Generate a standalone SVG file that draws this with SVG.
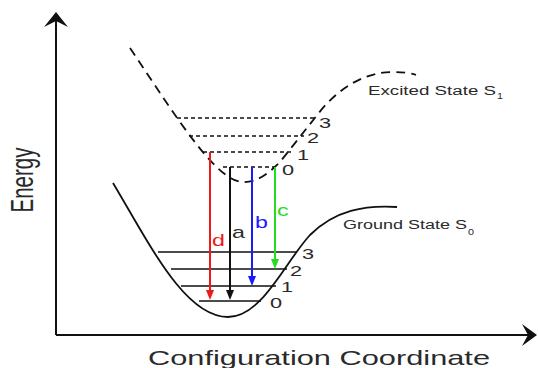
<svg xmlns="http://www.w3.org/2000/svg" width="538" height="368" viewBox="0 0 538 368">
<defs>
<style>
.axis{stroke:#111;stroke-width:2;fill:none}
.curve{stroke:#111;stroke-width:1.8;fill:none}
.dashc{stroke:#111;stroke-width:1.8;fill:none;stroke-dasharray:9 6}
.lvl{stroke:#111;stroke-width:1.5}
.dlvl{stroke:#111;stroke-width:1.4;stroke-dasharray:4 3}
.t{font-family:"Liberation Sans",Arial,sans-serif;fill:#2a2a2a}
.num{font-size:15px}
.arr{stroke-width:2}
</style>
<marker id="hr" markerUnits="userSpaceOnUse" markerWidth="10" markerHeight="8" refX="4" refY="4" orient="auto"><path d="M0,0 L10,4 L0,8 Z" fill="#f01818"/></marker>
<marker id="hk" markerUnits="userSpaceOnUse" markerWidth="10" markerHeight="8" refX="4" refY="4" orient="auto"><path d="M0,0 L10,4 L0,8 Z" fill="#111"/></marker>
<marker id="hb" markerUnits="userSpaceOnUse" markerWidth="10" markerHeight="8" refX="4" refY="4" orient="auto"><path d="M0,0 L10,4 L0,8 Z" fill="#1a1aff"/></marker>
<marker id="hg" markerUnits="userSpaceOnUse" markerWidth="10" markerHeight="8" refX="4" refY="4" orient="auto"><path d="M0,0 L10,4 L0,8 Z" fill="#22dd22"/></marker>
</defs>
<rect width="538" height="368" fill="#fff"/>
<g id="axes">
<path class="axis" d="M56,335 L56,18 M56,335 L530,335"/>
<path d="M56,12 L68,27 L56,21 L44,27 Z" fill="#111"/>
<path d="M537,335 L522,324 L528,335 L522,346 Z" fill="#111"/>
<text class="t" font-size="20.5" text-anchor="middle" transform="translate(33,180) rotate(-90) scale(1,1.5)">Energy</text>
<text class="t" font-size="21" x="148" y="365" textLength="342" lengthAdjust="spacingAndGlyphs">Configuration Coordinate</text>
</g>
<g id="excited-state">
<path class="dashc" d="M130,48 C175,115 215,180 242,182 C256,183 268,174 280,162 L318,114 C338,88 365,72 392,72 C402,72 410,73 416,75"/>
<line class="dlvl" x1="177" y1="118" x2="317" y2="118"/>
<line class="dlvl" x1="189" y1="136" x2="304" y2="136"/>
<line class="dlvl" x1="203" y1="152" x2="294" y2="152"/>
<line class="dlvl" x1="223" y1="167" x2="275" y2="167"/>
<text class="t num" transform="translate(319,128) scale(1.45,1)">3</text>
<text class="t num" transform="translate(307,143) scale(1.45,1)">2</text>
<text class="t num" transform="translate(297,160) scale(1.45,1)">1</text>
<text class="t num" transform="translate(282,175) scale(1.45,1)">0</text>
<text class="t" font-size="12.5" x="368" y="95" textLength="128" lengthAdjust="spacingAndGlyphs">Excited State S</text>
<text class="t" font-size="9" transform="translate(497,99) scale(1.2,1)">1</text>
</g>
<g id="ground-state">
<path class="curve" d="M113,183 C150,245 185,317 228,317 C262,317 285,262 310,235 C335,210 365,205 397,207"/>
<line class="lvl" x1="158" y1="252" x2="297" y2="252"/>
<line class="lvl" x1="171" y1="269" x2="287" y2="269"/>
<line class="lvl" x1="181" y1="286" x2="276" y2="286"/>
<line class="lvl" x1="199" y1="301" x2="261" y2="301"/>
<text class="t num" transform="translate(302,259) scale(1.45,1)">3</text>
<text class="t num" transform="translate(290,276) scale(1.45,1)">2</text>
<text class="t num" transform="translate(281,292) scale(1.45,1)">1</text>
<text class="t num" transform="translate(270,308) scale(1.45,1)">0</text>
<text class="t" font-size="12.5" x="343" y="229" textLength="124" lengthAdjust="spacingAndGlyphs">Ground State S</text>
<text class="t" font-size="9" transform="translate(468,235) scale(1.2,1)">0</text>
</g>
<g id="transitions">
<line class="arr" x1="210" y1="152" x2="210" y2="294" stroke="#f01818" marker-end="url(#hr)"/>
<line class="arr" x1="230" y1="167" x2="230" y2="294" stroke="#111" stroke-width="1.6" marker-end="url(#hk)"/>
<line class="arr" x1="252" y1="167" x2="252" y2="280" stroke="#1a1aff" marker-end="url(#hb)"/>
<line class="arr" x1="275" y1="167" x2="275" y2="263" stroke="#22dd22" marker-end="url(#hg)"/>
<text class="t" font-size="16" style="fill:#f01818" transform="translate(212,246) scale(1.45,1)">d</text>
<text class="t" font-size="16" transform="translate(232,238) scale(1.45,1)">a</text>
<text class="t" font-size="16" style="fill:#1a1aff" transform="translate(255,228) scale(1.45,1)">b</text>
<text class="t" font-size="16" style="fill:#22dd22" transform="translate(277,216) scale(1.45,1)">c</text>
</g>
</svg>
